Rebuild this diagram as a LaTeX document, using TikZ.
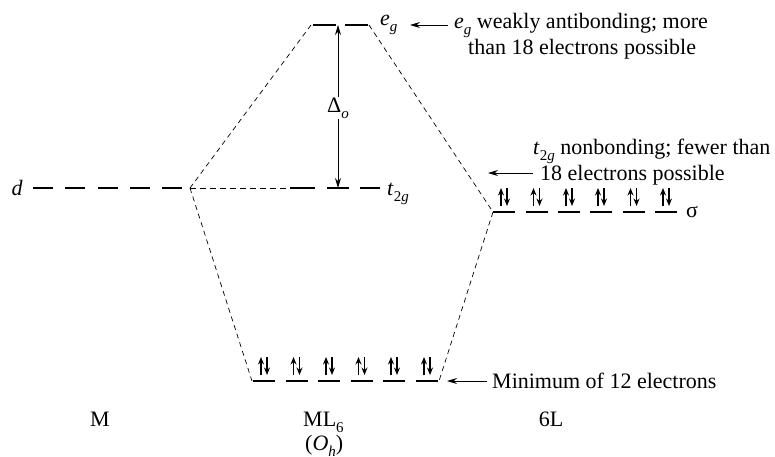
\documentclass[tikz,border=0pt]{standalone}
\usepackage{fontspec}
\setmainfont{Liberation Serif}
\usetikzlibrary{arrows.meta}
% lowered subscript as set in the printed figure
\newcommand{\lowsub}[1]{\raisebox{-6pt}{\fontsize{15}{15}\selectfont #1}}
\begin{document}
\begin{tikzpicture}[x=1pt,y=-1pt,
  lvl/.style={line width=2.4pt},
  corr/.style={line width=0.7pt, dash pattern=on 5pt off 4pt},
  thin dashes/.style={line width=0.6pt, dash pattern=on 6pt off 4pt},
  lbl/.style={font=\fontsize{22}{26}\selectfont, inner sep=0pt},
  ptr/.style={line width=0.9pt, -{Stealth[length=10pt,width=6pt]}},
  elec/.style={line width=1.1pt, -{Stealth[length=7.5pt,width=6pt]}}
]
\useasboundingbox (0,0) rectangle (775,456);

% ---- level end points ----
\coordinate (dL) at (33,188);
\coordinate (dE) at (182,188);
\coordinate (dR) at (190,188);
\coordinate (tL) at (290,188);
\coordinate (tM) at (338,188);
\coordinate (eL) at (311,25);
\coordinate (eR) at (369,25);
\coordinate (eM) at (338,25);
\coordinate (sL) at (493,212);
\coordinate (bL) at (252,381);
\coordinate (bR) at (439,381);

% ---- d level (metal) ----
\draw[lvl, dash pattern=on 20pt off 12.25pt] (dL) -- (dE);
\node[lbl, anchor=base east] (dlab) at (23,195) {\textit{d}};

% ---- t2g level ----
\draw[thin dashes] (dR) -- (tL);
\foreach \a/\b in {290/315, 327/349, 360/380}
  \draw[lvl] (\a,188) -- (\b,188);
\node[lbl, anchor=base west] (tlab) at (387,195) {\textit{t}\lowsub{2\textit{g}}};

% ---- eg level ----
\foreach \a/\b in {313/336, 345/368}
  \draw[lvl] (\a,25) -- (\b,25);
\node[lbl, anchor=base west] (elab) at (380,25) {\textit{e}\lowsub{\textit{g}}};

% ---- ligand sigma level ----
\foreach \c in {504,536.5,569,601,633.5,666} {
  \draw[lvl] ({\c-11},212) -- ({\c+11},212);
  \draw[elec] ({\c-3},206) -- ({\c-3},188);
  \draw[elec] ({\c+3},188) -- ({\c+3},206);
}
\node[lbl, anchor=base west] (slab) at (686,217) {σ};

% ---- bonding level ----
\foreach \c in {264,296.5,329,361.5,394,427} {
  \draw[lvl] ({\c-11},381) -- ({\c+11},381);
  \draw[elec] ({\c-3},375) -- ({\c-3},357);
  \draw[elec] ({\c+3},357) -- ({\c+3},375);
}

% ---- correlation lines ----
\draw[corr] (dR) -- (eL);
\draw[corr] (dR) -- (bL);
\draw[corr] (eR) -- (sL);
\draw[corr] (sL) -- (bR);

% ---- splitting Delta_o ----
\node[lbl] (delta) at (338,108) {Δ\lowsub{\textit{o}}};
\draw[ptr] (delta.north) -- (eM);
\draw[ptr] (delta.south) -- (tM);

% ---- annotations ----
\coordinate (ea) at (448,25);
\coordinate (eb) at (410,25);
\draw[ptr] (ea) -- (eb);
\node[lbl, anchor=base west] (enote1) at (454,28) {\textit{e}\lowsub{\textit{g}} weakly antibonding; more};
\node[lbl, anchor=base west] (enote2) at (468,54) {than 18 electrons possible};

\node[lbl, anchor=base west] (tnote1) at (533,154) {\textit{t}\lowsub{2\textit{g}} nonbonding; fewer than};
\node[lbl, anchor=base west] (tnote2) at (540,180) {18 electrons possible};
\coordinate (ta) at (533,173);
\coordinate (tb) at (488,173);
\draw[ptr] (ta) -- (tb);

\coordinate (ma) at (487,381);
\coordinate (mb) at (447,381);
\draw[ptr] (ma) -- (mb);
\node[lbl, anchor=base west] (mnote) at (492,388) {Minimum of 12 electrons};

% ---- column labels ----
\node[lbl, anchor=base] (colM) at (100,426) {M};
\node[lbl, anchor=base west] (colML) at (303,426) {ML\lowsub{6}};
\node[lbl, anchor=base west] (colOh) at (305,450) {(\textit{O}\lowsub{\textit{h}})};
\node[lbl, anchor=base] (colL) at (551,426) {6L};
\end{tikzpicture}
\end{document}
